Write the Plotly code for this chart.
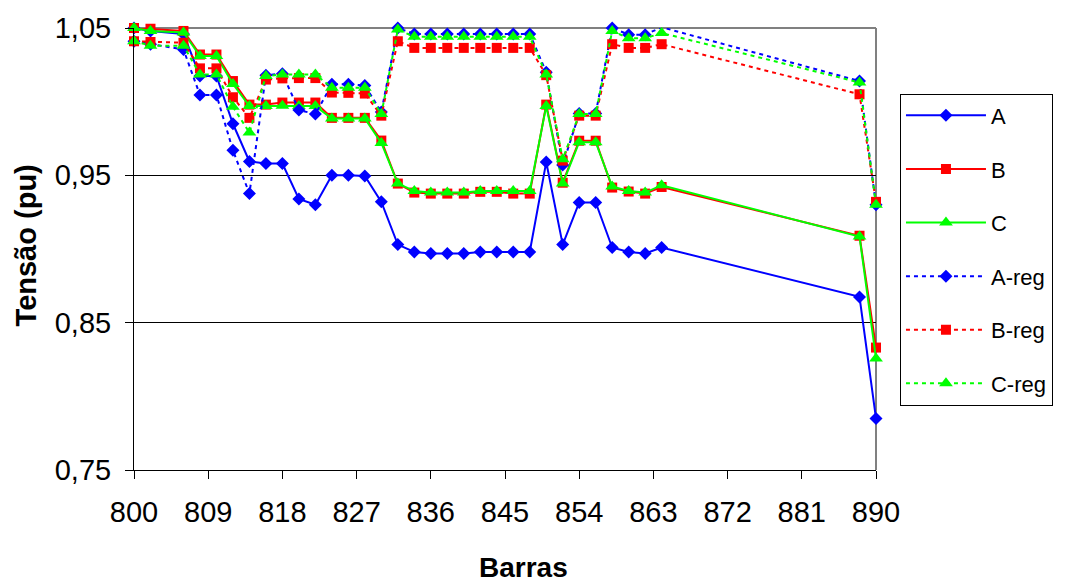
import plotly.graph_objects as go

buses = [800, 802, 806, 808, 810, 812, 814, 816, 818, 820, 822, 824, 826, 828, 830,
         832, 834, 836, 838, 840, 842, 844, 846, 848, 850, 852, 854, 856, 858, 860,
         862, 864, 888, 890]

A = [1.050, 1.048, 1.046, 1.0175, 1.0175, 0.985, 0.9594, 0.958, 0.958, 0.934, 0.930,
     0.950, 0.950, 0.9495, 0.932, 0.903, 0.898, 0.897, 0.897, 0.897, 0.898, 0.898,
     0.898, 0.898, 0.959, 0.903, 0.9316, 0.9316, 0.901, 0.898, 0.897, 0.901, 0.8675, 0.785]
B = [1.050, 1.0495, 1.048, 1.032, 1.032, 1.014, 0.998, 0.998, 0.9994, 0.9994, 0.9994,
     0.989, 0.989, 0.989, 0.9736, 0.9444, 0.9383, 0.9376, 0.9376, 0.9376, 0.9388, 0.9388,
     0.9376, 0.9376, 0.998, 0.945, 0.9735, 0.9735, 0.9417, 0.939, 0.9376, 0.9421, 0.909, 0.8331]
C = [1.050, 1.048, 1.047, 1.031, 1.031, 1.012, 0.997, 0.997, 0.9972, 0.997, 0.997,
     0.9886, 0.9886, 0.9886, 0.972, 0.9444, 0.9394, 0.9383, 0.9383, 0.9383, 0.9394, 0.9394,
     0.9394, 0.9394, 0.997, 0.9444, 0.9725, 0.9725, 0.9424, 0.9394, 0.9383, 0.9433, 0.9084, 0.8257]
A_reg = [1.041, 1.039, 1.0354, 1.0046, 1.0046, 0.967, 0.9376, 1.018, 1.019, 0.9943, 0.9916,
         1.0118, 1.0118, 1.011, 0.993, 1.050, 1.046, 1.046, 1.046, 1.046, 1.046, 1.046,
         1.046, 1.046, 1.020, 0.957, 0.992, 0.992, 1.050, 1.0455, 1.0455, 1.0505, 1.014, 0.930]
B_reg = [1.041, 1.0405, 1.040, 1.0226, 1.0226, 1.003, 0.989, 1.015, 1.0158, 1.016, 1.016,
         1.0062, 1.006, 1.0055, 0.9905, 1.041, 1.0365, 1.0365, 1.0365, 1.0365, 1.0365, 1.0365,
         1.0365, 1.0365, 1.018, 0.960, 0.9905, 0.9905, 1.039, 1.0365, 1.0365, 1.039, 1.005, 0.932]
C_reg = [1.041, 1.038, 1.038, 1.0185, 1.0185, 0.9965, 0.979, 1.0174, 1.0185, 1.0185, 1.0185,
         1.0095, 1.0095, 1.0095, 0.9916, 1.049, 1.044, 1.044, 1.044, 1.044, 1.044, 1.044,
         1.044, 1.044, 1.0185, 0.961, 0.9916, 0.9916, 1.048, 1.043, 1.043, 1.0466, 1.013, 0.930]

x_ticks = [800, 809, 818, 827, 836, 845, 854, 863, 872, 881, 890]
y_ticks = [0.75, 0.85, 0.95, 1.05]

series = [
    ("A", A, "#0000FF", "diamond", 10, "solid"),
    ("B", B, "#FF0000", "square", 10, "solid"),
    ("C", C, "#00FF00", "triangle-up", 12, "solid"),
    ("A-reg", A_reg, "#0000FF", "diamond", 10, "4px,4px"),
    ("B-reg", B_reg, "#FF0000", "square", 10, "4px,4px"),
    ("C-reg", C_reg, "#00FF00", "triangle-up", 12, "4px,4px"),
]

FONT = "Liberation Sans, Arial, sans-serif"

fig = go.Figure()
for name, vals, col, sym, size, dash in series:
    fig.add_trace(go.Scatter(
        x=buses, y=vals, name=name, mode="lines+markers", legendgroup=name,
        line=dict(color=col, width=2, dash=dash),
        marker=dict(symbol=sym, size=size, color=col, line=dict(width=0)),
        cliponaxis=False,
    ))

fig.update_layout(
    width=1067, height=582,
    margin=dict(l=134, r=191, t=25, b=112),
    paper_bgcolor="white", plot_bgcolor="white",
    separators=", ",
    font=dict(family=FONT, color="black"),
    showlegend=True,
    legend=dict(
        x=1.0323, y=0.8517, xanchor="left", yanchor="top",
        font=dict(family=FONT, size=22, color="black"),
        bordercolor="black", borderwidth=1, bgcolor="white",
        tracegroupgap=22, itemwidth=80,
        entrywidth=150, entrywidthmode="pixels",
    ),
    xaxis=dict(
        range=[800, 890], tickvals=x_ticks, ticks="outside", ticklen=8,
        tickcolor="black", showline=True, linecolor="black", linewidth=1,
        showgrid=False, zeroline=False, ticklabelstandoff=8,
        tickfont=dict(family=FONT, size=29, color="black"),
    ),
    yaxis=dict(
        range=[0.75, 1.05], tickvals=y_ticks, tickformat=".2f", ticks="outside",
        ticklen=8, tickcolor="black", showline=True, linecolor="black", linewidth=1,
        showgrid=True, gridcolor="black", gridwidth=1, zeroline=False,
        ticklabelstandoff=8,
        tickfont=dict(family=FONT, size=29, color="black"),
    ),
    shapes=[
        dict(type="line", xref="paper", yref="paper", x0=0, x1=1, y0=1, y1=1,
             line=dict(color="#808080", width=2), layer="below"),
        dict(type="line", xref="paper", yref="paper", x0=1, x1=1, y0=0, y1=1,
             line=dict(color="#808080", width=2), layer="below"),
    ],
    annotations=[
        dict(text="<b>Barras</b>", xref="paper", yref="paper", x=0.5256, y=-0.2195,
             xanchor="center", yanchor="middle", showarrow=False,
             font=dict(family=FONT, size=28, color="black")),
        dict(text="<b>Tensão (pu)</b>", xref="paper", yref="paper", x=-0.1456, y=0.508,
             xanchor="center", yanchor="middle", showarrow=False, textangle=-90,
             font=dict(family=FONT, size=29, color="black")),
    ],
)

fig.write_html("out.html")
